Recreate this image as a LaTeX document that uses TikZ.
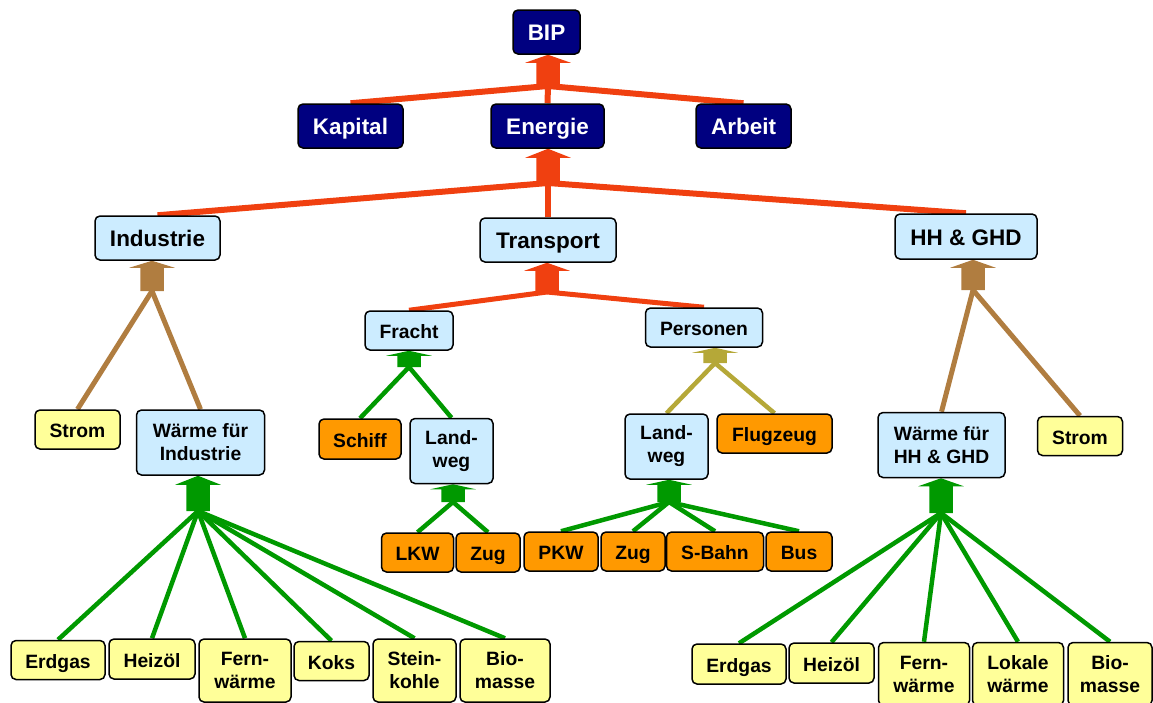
\documentclass[tikz,border=0pt]{standalone}
\usepackage{fontspec}
\setmainfont{Liberation Sans}
\usetikzlibrary{backgrounds,calc}
\definecolor{navyc}{RGB}{0,0,128}
\definecolor{bluec}{RGB}{204,236,255}
\definecolor{yelc}{RGB}{255,255,153}
\definecolor{orac}{RGB}{255,153,0}
\definecolor{redc}{RGB}{240,64,16}
\definecolor{grnc}{RGB}{0,153,0}
\definecolor{brnc}{RGB}{176,125,64}
\definecolor{olvc}{RGB}{181,168,56}
\newcommand\fatarrow[4]{%
  \fill[#1] let \p1=(#2), \p2=(#3) in
    (\x1-11.75pt,\y1) -- (\x1-11.75pt,\y2-#4pt) -- (\x1-22.75pt,\y2-#4pt) -- (\x1,\y2)
    -- (\x1+22.75pt,\y2-#4pt) -- (\x1+11.75pt,\y2-#4pt) -- (\x1+11.75pt,\y1) -- cycle;}
\tikzset{
  box/.style={draw=black, line width=1.5pt, rounded corners=5pt, inner sep=0pt, align=center,
    font=\bfseries\fontsize{19.3}{23}\selectfont},
  topbox/.style={box, fill=navyc, text=white, font=\bfseries\fontsize{22.5}{26}\selectfont,
    text height=17.5pt, text depth=0pt},
  bigbox/.style={box, fill=bluec, font=\bfseries\fontsize{22.5}{26}\selectfont,
    text height=17.5pt, text depth=0pt},
  one/.style={text height=16.8pt, text depth=0pt},
  bluebox/.style={box, fill=bluec},
  yelbox/.style={box, fill=yelc},
  orabox/.style={box, fill=orac},
  sz/.style 2 args={minimum width=#1pt, minimum height=#2pt},
  redline/.style={draw=redc, line width=6pt},
  redthin/.style={draw=redc, line width=5pt},
  grnline/.style={draw=grnc, line width=4.5pt},
  brnline/.style={draw=brnc, line width=5pt},
  olvline/.style={draw=olvc, line width=4.5pt},
}
\begin{document}
\begin{tikzpicture}[x=1pt, y=-1pt]
\useasboundingbox (0,0) rectangle (1153,702);
% level 0/1
\node[topbox, sz={67}{44}] (bip) at (546.5,32) {BIP};
\node[topbox, sz={105}{44}] (kap) at (350.5,126) {Kapital};
\node[topbox, sz={113}{44}] (ene) at (547.5,126) {Energie};
\node[topbox, sz={95}{44}] (arb) at (743.5,126) {Arbeit};
% level 2
\node[bigbox, sz={125}{44}] (ind) at (157.5,238) {Industrie};
\node[bigbox, sz={136}{44}] (tra) at (548,240) {Transport};
\node[bigbox, sz={142}{45}] (hh) at (966,236.5) {HH \& GHD};
% transport branch
\node[bluebox, one, sz={88}{39}] (fra) at (409,330.5) {Fracht};
\node[bluebox, one, sz={117}{39}] (per) at (704,327.5) {Personen};
\node[orabox, one, sz={82}{40}] (sch) at (360,439) {Schiff};
\node[bluebox, sz={83}{65}] (lw1) at (451.5,451) {Land-\\weg};
\node[bluebox, sz={83}{65}] (lw2) at (666.5,446.5) {Land-\\weg};
\node[orabox, one, sz={115}{39}] (flu) at (774.5,433.5) {Flugzeug};
\node[orabox, one, sz={72}{39}] (lkw) at (417.5,552.5) {LKW};
\node[orabox, one, sz={64}{39}] (zug1) at (488,552.5) {Zug};
\node[orabox, one, sz={74}{39}] (pkw) at (561,551.5) {PKW};
\node[orabox, one, sz={64}{39}] (zug2) at (633,551.5) {Zug};
\node[orabox, one, sz={97}{39}] (sbahn) at (715,551.5) {S-Bahn};
\node[orabox, one, sz={66}{39}] (bus) at (799,551.5) {Bus};
% industry branch
\node[yelbox, one, sz={85}{39}] (str1) at (77.5,429.5) {Strom};
\node[bluebox, sz={128}{65}] (wi) at (200.5,442.5) {Wärme für\\Industrie};
\node[yelbox, one, sz={94}{39}] (erd1) at (58,660) {Erdgas};
\node[yelbox, one, sz={86}{40}] (hei1) at (152,659) {Heizöl};
\node[yelbox, sz={92}{63}] (fer1) at (245,670.5) {Fern-\\wärme};
\node[yelbox, one, sz={75}{39}] (kok) at (331.5,661) {Koks};
\node[yelbox, sz={83}{63}] (ste) at (414.5,670.5) {Stein-\\kohle};
\node[yelbox, sz={90}{63}] (bio1) at (505,670.5) {Bio-\\masse};
% HH branch
\node[bluebox, sz={127}{65}] (wh) at (941.5,445) {Wärme für\\HH \& GHD};
\node[yelbox, one, sz={85}{39}] (str2) at (1080,436) {Strom};
\node[yelbox, one, sz={94}{40}] (erd2) at (739,664) {Erdgas};
\node[yelbox, one, sz={85}{40}] (hei2) at (831.5,663) {Heizöl};
\node[yelbox, sz={91}{63}] (fer2) at (924,674) {Fern-\\wärme};
\node[yelbox, sz={91}{63}] (lok) at (1018,674) {Lokale\\wärme};
\node[yelbox, sz={84}{63}] (bio2) at (1110,674) {Bio-\\masse};
% junctions
\coordinate (jBIP) at (548,86);
\coordinate (jEn) at (548,183);
\coordinate (jTr) at (547,292);
\coordinate (jFr) at (409,367);
\coordinate (jPe) at (715,363);
\coordinate (jLw1) at (453,502);
\coordinate (jLw2) at (669,502);
\coordinate (jInd) at (152,291);
\coordinate (jWI) at (198,511);
\coordinate (jHH) at (973,290);
\coordinate (jWH) at (941,513);
\begin{scope}[on background layer]
\draw[redline] (kap.north) -- (jBIP);
\draw[redline] (ene.north) -- (jBIP);
\draw[redline] (arb.north) -- (jBIP);
\fatarrow{redc}{jBIP}{bip.south}{8}
\draw[redline] (ind.north) -- (jEn);
\draw[redline] (tra.north) -- (jEn);
\draw[redline] (hh.north) -- (jEn);
\fatarrow{redc}{jEn}{ene.south}{9}
\draw[redthin] (fra.north) -- (jTr);
\draw[redthin] (per.north) -- (jTr);
\fatarrow{redc}{jTr}{tra.south}{8}
\draw[grnline] (sch.north) -- (jFr);
\draw[grnline] (lw1.north) -- (jFr);
\fatarrow{grnc}{jFr}{fra.south}{5}
\draw[olvline] (lw2.north) -- (jPe);
\draw[olvline] (flu.north) -- (jPe);
\fatarrow{olvc}{jPe}{per.south}{5}
\draw[grnline] (lkw.north) -- (jLw1);
\draw[grnline] (zug1.north) -- (jLw1);
\fatarrow{grnc}{jLw1}{lw1.south}{5}
\draw[grnline] (pkw.north) -- (jLw2);
\draw[grnline] (zug2.north) -- (jLw2);
\draw[grnline] (sbahn.north) -- (jLw2);
\draw[grnline] (bus.north) -- (jLw2);
\fatarrow{grnc}{jLw2}{lw2.south}{5}
\draw[brnline] (str1.north) -- (jInd);
\draw[brnline] (wi.north) -- (jInd);
\fatarrow{brnc}{jInd}{ind.south}{7}
\draw[grnline] (erd1.north) -- (jWI);
\draw[grnline] (hei1.north) -- (jWI);
\draw[grnline] (fer1.north) -- (jWI);
\draw[grnline] (kok.north) -- (jWI);
\draw[grnline] (ste.north) -- (jWI);
\draw[grnline] (bio1.north) -- (jWI);
\fatarrow{grnc}{jWI}{wi.south}{9}
\draw[brnline] (wh.north) -- (jHH);
\draw[brnline] (str2.north) -- (jHH);
\fatarrow{brnc}{jHH}{hh.south}{8}
\draw[grnline] (erd2.north) -- (jWH);
\draw[grnline] (hei2.north) -- (jWH);
\draw[grnline] (fer2.north) -- (jWH);
\draw[grnline] (lok.north) -- (jWH);
\draw[grnline] (bio2.north) -- (jWH);
\fatarrow{grnc}{jWH}{wh.south}{8}
\end{scope}
\end{tikzpicture}
\end{document}
